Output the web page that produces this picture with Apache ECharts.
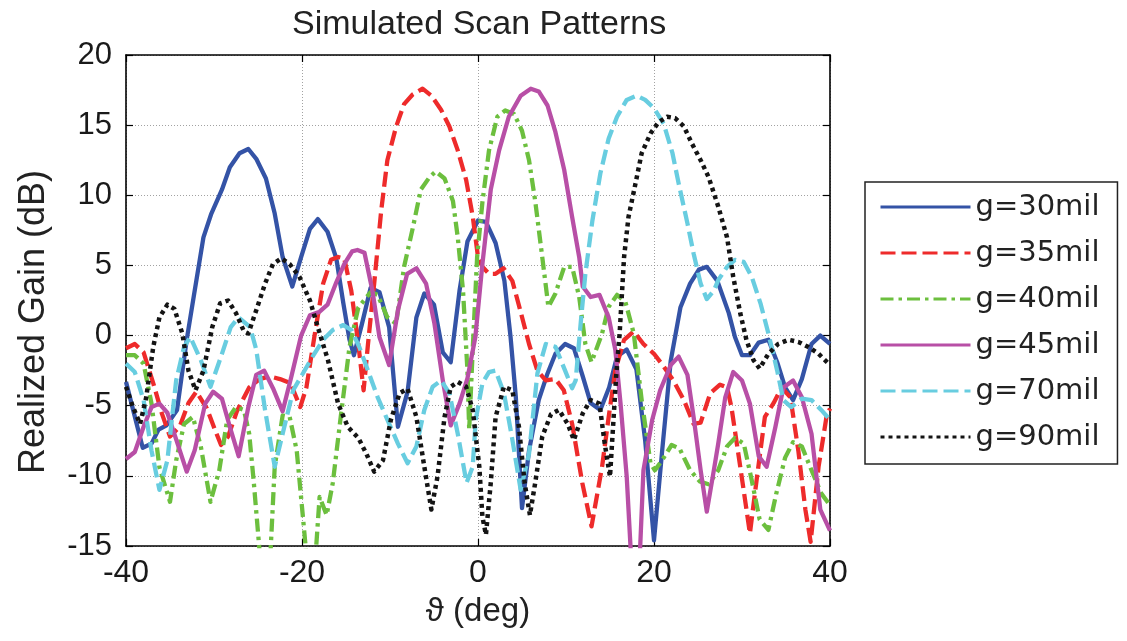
<!DOCTYPE html>
<html>
<head>
<meta charset="utf-8">
<title>Simulated Scan Patterns</title>
<script src="https://cdn.jsdelivr.net/npm/echarts@6/dist/echarts.min.js"></script>
<style>
  html, body { margin: 0; padding: 0; background: #fff; }
  #chart { width: 1127px; height: 641px; }
</style>
</head>
<body>
<div id="chart"></div>
<script>
// [scan angle (deg), realized gain (dB)], one list per gap size
const g30 = [[-40,-3.3],[-38.1,-8.0],[-37.1,-7.7],[-36.3,-6.7],[-35.4,-6.4],[-34.2,-5.3],[-33.1,-0.3],[-32.3,2.8],[-31.2,7.0],[-30.3,8.7],[-29.1,10.4],[-28.2,12.0],[-27.1,13.0],[-26.1,13.3],[-25.2,12.6],[-24.1,11.2],[-23.1,8.7],[-22.2,5.6],[-21.1,3.5],[-20.1,5.6],[-19.1,7.6],[-18.2,8.3],[-17.1,7.4],[-16.1,5.5],[-15.3,2.3],[-14.6,-0.3],[-14.1,-1.4],[-13.2,0.8],[-12.2,3.4],[-11.2,3.1],[-10.1,0.6],[-9.1,-6.5],[-8.0,-4.0],[-7.0,1.3],[-6.1,3.0],[-5.0,2.2],[-4.0,-1.2],[-3.1,-1.9],[-2.1,3.2],[-1.2,6.7],[0,8.2],[0.9,8.1],[2.0,6.6],[3.0,3.9],[3.7,-0.1],[4.3,-4.4],[5.0,-12.3],[5.8,-8.2],[6.9,-4.6],[7.9,-2.7],[8.8,-1.3],[9.9,-0.6],[10.9,-0.9],[11.9,-2.9],[12.8,-4.8],[13.9,-5.3],[14.9,-3.7],[15.8,-1.5],[16.9,-1.0],[18.0,-2.4],[19.0,-7.5],[20.0,-14.6],[20.9,-8.4],[21.9,-1.8],[23.0,2.0],[24.1,3.7],[25.1,4.7],[26.0,4.9],[27.2,3.9],[28.5,1.6],[29.2,-0.1],[30.0,-1.4],[30.9,-1.4],[31.9,-0.5],[33.0,-0.3],[34.0,-1.9],[34.9,-3.7],[35.8,-4.6],[36.8,-3.1],[37.9,-0.6],[38.9,0.0],[40,-0.6]];

const g35 = [[-40,-0.9],[-39,-0.6],[-38,-1.2],[-36.9,-3.4],[-35.9,-5.6],[-35,-7.2],[-33.9,-6.5],[-32.9,-4.8],[-32,-4.0],[-30.8,-5.2],[-29.9,-6.7],[-29.2,-7.8],[-28.4,-7.2],[-27.4,-5.4],[-26,-3.7],[-24.8,-3.1],[-23.7,-2.9],[-22.5,-3.1],[-21.3,-3.4],[-20.2,-5.1],[-19.5,-3.7],[-18.6,-0.1],[-17.6,3.7],[-16.7,5.4],[-15.9,5.6],[-15.2,5.5],[-14.4,3.2],[-13.6,-0.6],[-13.0,-3.9],[-12.5,-0.6],[-11.8,3.7],[-11.0,8.9],[-10.3,12.5],[-9.3,14.9],[-8.4,16.5],[-7.4,17.2],[-6.3,17.6],[-5.3,17.1],[-4.2,16.1],[-3.25,14.9],[-2.3,13.2],[-1.35,11.1],[-0.6,8.5],[0,5.6],[0.5,4.9],[1.25,4.4],[2.0,4.4],[2.9,4.8],[3.9,3.9],[4.8,1.8],[5.8,-0.6],[6.75,-2.5],[7.7,-3.2],[8.8,-3.1],[9.75,-3.9],[10.7,-6.3],[11.85,-10.5],[12.9,-13.6],[14.1,-9.35],[14.85,-5.8],[15.6,-2.5],[16.6,-0.3],[17.7,0.3],[18.8,-0.6],[20,-1.3],[21.1,-2.2],[22.2,-3.2],[23.4,-4.6],[24.5,-6.3],[25.3,-6.2],[26.4,-4.1],[27.5,-3.5],[28.3,-3.7],[28.8,-5.1],[29.8,-9.35],[30.9,-14.1],[31.7,-10.1],[32.6,-5.8],[33.6,-4.8],[34.5,-3.7],[35.5,-4.4],[36.4,-8.2],[37.2,-12.4],[37.8,-14.7],[38.7,-9.35],[39.6,-5.8],[40,-5.2]];

const g40 = [[-40,-1.4],[-39,-1.4],[-38,-2.0],[-37.1,-4.85],[-36.2,-9.4],[-35.0,-11.85],[-34.3,-8.9],[-33.4,-6.3],[-32.4,-5.8],[-31.5,-7.9],[-30.4,-11.85],[-29.4,-9.6],[-28.5,-6.0],[-27.5,-5.1],[-26.6,-5.3],[-26.0,-7.0],[-25.5,-10.3],[-24.6,-17],[-23.7,-17],[-23.1,-9.35],[-22.2,-5.7],[-21.4,-5.8],[-20.6,-8.2],[-19.9,-12.9],[-19.3,-17],[-18.6,-17],[-18.0,-11.5],[-17.2,-12.8],[-16.5,-10.5],[-15.6,-5.8],[-14.6,-0.8],[-13.6,2.0],[-12.2,3.1],[-11.4,2.9],[-10.3,1.3],[-9.3,0.85],[-8.4,4.9],[-7.4,7.7],[-6.5,10.4],[-5.5,11.3],[-4.8,11.7],[-3.8,11.2],[-2.85,9.6],[-2.3,7.0],[-1.7,3.2],[-1.2,-2.5],[-1.0,-6.7],[-0.6,-1.0],[-0.1,5.6],[0.5,9.5],[1.25,13.2],[2.2,15.6],[3.1,16.05],[4.1,15.8],[5.0,14.6],[5.8,12.5],[6.5,9.6],[7.3,5.6],[8.0,2.05],[8.8,3.0],[9.8,4.9],[10.7,4.9],[11.5,2.75],[12.2,-0.6],[12.9,-1.9],[14.1,0.15],[14.85,2.05],[15.8,2.9],[16.75,2.4],[17.7,0.15],[18.6,-4.6],[19.6,-9.1],[20.1,-9.6],[20.9,-8.9],[22.0,-7.8],[22.9,-8.05],[24.1,-9.6],[25.2,-10.4],[26.2,-10.6],[27.3,-9.6],[28.3,-7.9],[29.2,-7.3],[30.2,-7.7],[31.1,-10.3],[32.0,-13.1],[33.0,-13.85],[33.9,-11.25],[34.9,-8.7],[35.8,-7.6],[36.8,-7.9],[37.9,-9.6],[39.0,-11.25],[40,-12.1]];

const g45 = [[-40,-8.8],[-39,-8.3],[-38,-6.5],[-37.1,-5.1],[-36.2,-4.85],[-35.3,-5.5],[-34.3,-7.4],[-33.1,-9.7],[-32.2,-8.2],[-31.0,-4.85],[-30.1,-4.0],[-29.1,-4.5],[-28.2,-6.5],[-27.2,-8.6],[-26.1,-5.1],[-25.2,-2.8],[-24.3,-2.5],[-23.3,-3.75],[-22.2,-5.4],[-21.2,-2.9],[-20.1,0.0],[-19.1,1.45],[-18.0,1.7],[-17.1,2.2],[-16.1,3.8],[-15.2,5.1],[-14.3,6.0],[-13.7,6.1],[-12.9,5.9],[-12.0,3.2],[-11.2,-0.1],[-10.1,-2.1],[-9.1,1.8],[-8.05,4.4],[-7.0,4.8],[-5.9,3.7],[-4.95,0.85],[-4.0,-3.2],[-3.1,-6.4],[-2.1,-4.85],[-1.2,-3.05],[-0.3,-0.1],[0.5,5.1],[1.45,10.4],[2.4,13.2],[3.5,15.6],[4.85,17.1],[6.0,17.6],[6.9,17.4],[7.9,16.4],[8.8,14.5],[9.8,11.8],[10.7,8.45],[11.5,5.6],[11.9,3.5],[12.8,2.75],[13.8,2.9],[14.85,1.3],[15.6,-1.0],[16.2,-4.85],[16.9,-10.05],[17.5,-17],[18.3,-17],[18.8,-9.6],[19.8,-6.0],[20.7,-3.9],[21.9,-2.1],[22.8,-1.5],[23.8,-2.8],[24.5,-5.8],[25.3,-9.6],[26.0,-12.55],[26.8,-9.6],[27.3,-7.7],[28.1,-4.4],[29.0,-2.6],[30.0,-3.2],[30.9,-4.85],[31.9,-8.6],[32.8,-9.35],[33.8,-6.5],[34.7,-3.7],[35.8,-3.2],[36.8,-4.4],[37.9,-7.0],[38.9,-12.4],[40,-13.9]];

const g70 = [[-40,-2.0],[-39,-2.6],[-38,-4.6],[-37.1,-8.2],[-36.2,-11.0],[-35.3,-8.9],[-34.3,-3.2],[-33.4,-0.8],[-32.7,-0.1],[-31.5,-1.75],[-30.4,-3.65],[-29.2,-1.5],[-28.1,0.6],[-27.2,1.3],[-25.9,0.6],[-25.2,-1.0],[-24.2,-5.3],[-23.1,-9.35],[-22.2,-7.0],[-21.0,-3.9],[-19.9,-2.7],[-18.8,-1.5],[-17.6,-0.3],[-16.5,0.4],[-15.3,0.75],[-14.4,0.4],[-13.5,-0.8],[-12.5,-2.5],[-11.4,-4.4],[-10.3,-6.0],[-9.1,-7.7],[-8.0,-9.1],[-7.0,-7.9],[-6.1,-5.3],[-5.15,-3.65],[-4.2,-3.2],[-3.25,-4.1],[-2.3,-7.0],[-1.3,-10.5],[-0.6,-9.35],[-0.26,-6.0],[0.5,-3.4],[1.25,-2.6],[2.0,-2.5],[2.95,-4.1],[3.9,-7.4],[4.85,-11.0],[5.8,-8.4],[6.75,-2.7],[7.7,-0.6],[8.8,-0.8],[9.9,-2.5],[10.7,-3.75],[11.1,-3.2],[11.7,1.1],[12.2,4.4],[13.0,8.2],[13.9,11.55],[14.85,14.05],[15.8,15.6],[16.9,16.8],[18.05,17.1],[19.0,16.8],[20.0,16.2],[21.1,15.1],[22.1,13.0],[22.8,10.85],[23.8,8.0],[24.5,5.85],[25.3,3.7],[26.0,2.6],[26.8,3.2],[27.3,3.95],[28.3,4.9],[29.2,5.4],[30.2,5.25],[31.1,4.2],[32.1,2.3],[33.0,0.15],[34.0,-2.5],[34.7,-4.6],[35.6,-5.1],[36.8,-4.5],[37.9,-4.6],[39.0,-5.3],[40,-6.0]];

const g90 = [[-40,-3.65],[-39.2,-5.1],[-38.4,-6.3],[-37.7,-4.4],[-36.9,-0.8],[-36.2,1.3],[-35.3,2.2],[-34.5,1.9],[-33.6,0.15],[-32.9,-2.5],[-32.1,-3.9],[-31.2,-2.5],[-30.2,0.6],[-29.3,2.3],[-28.4,2.5],[-27.5,1.6],[-26.6,0.3],[-26.1,0.15],[-25.2,1.8],[-24.2,3.7],[-23.3,5.1],[-22.35,5.5],[-21.4,5.1],[-20.3,4.2],[-19.1,2.5],[-18.2,0.6],[-17.05,-1.75],[-15.9,-4.85],[-14.8,-6.5],[-13.6,-7.3],[-12.7,-8.4],[-11.8,-9.7],[-10.8,-8.9],[-9.9,-6.0],[-8.9,-4.1],[-8.0,-3.8],[-7.0,-5.8],[-6.1,-9.35],[-5.3,-12.4],[-4.6,-10.05],[-3.8,-5.8],[-3.1,-3.65],[-2.3,-3.3],[-1.35,-3.65],[-0.6,-5.3],[0.15,-9.35],[0.5,-12.9],[0.9,-14.2],[1.45,-10.5],[2.0,-5.8],[2.95,-3.65],[3.9,-3.9],[4.65,-6.5],[5.3,-10.5],[5.9,-12.8],[6.5,-10.5],[7.3,-7.2],[8.3,-5.6],[9.2,-5.3],[10.2,-6.3],[10.9,-7.45],[11.9,-5.55],[12.8,-4.6],[13.8,-4.85],[14.4,-7.7],[15.0,-10.05],[15.7,-2.9],[16.1,0.2],[16.6,5.6],[17.1,8.45],[17.9,10.85],[18.6,13.0],[19.6,14.4],[20.5,15.2],[21.5,15.6],[22.4,15.5],[23.4,14.9],[24.3,13.7],[25.3,12.5],[26.2,11.3],[27.3,9.2],[28.3,7.0],[29.0,4.2],[29.8,1.6],[30.5,-0.3],[31.3,-1.75],[32.0,-2.35],[33.0,-1.3],[34.1,-0.6],[35.3,-0.3],[36.4,-0.45],[37.5,-0.8],[38.7,-1.3],[40,-2.1]];

const seriesNames = ['g=30mil', 'g=35mil', 'g=40mil', 'g=45mil', 'g=70mil', 'g=90mil'];
const seriesData = [g30, g35, g40, g45, g70, g90];
const seriesColors = ['#3453a6', '#ee2b2b', '#6cbf3e', '#b84fa6', '#68cde0', '#141414'];
// solid, dashed, dash-dot, solid, dashed, dotted
const seriesDash = ['solid', [15, 6], [13, 5, 3.5, 5], 'solid', [15, 6], [4, 4]];

const fontMain = '"Liberation Sans", Arial, Helvetica, sans-serif';

const chart = echarts.init(document.getElementById('chart'));

const tick = { inside: true, length: 7, lineStyle: { color: '#000', width: 1.2 } };
const axisLine = { onZero: false, lineStyle: { color: '#000', width: 1.6 } };
const grid = { show: true, lineStyle: { color: '#8a8a8a', width: 0.8, type: [1, 2] } };

const option = {
  animation: false,
  backgroundColor: '#fff',
  title: {
    text: 'Simulated Scan Patterns',
    left: 287,
    top: 3,
    textStyle: { fontFamily: fontMain, fontSize: 34, fontWeight: 'normal', color: '#222' }
  },
  legend: {
    orient: 'vertical',
    left: 865,
    top: 182,
    padding: [10, 18, 12, 14],
    itemWidth: 90,
    itemHeight: 14,
    itemGap: 16,
    backgroundColor: '#fff',
    borderColor: '#222',
    borderWidth: 1.5,
    itemStyle: { opacity: 0, color: 'rgba(0,0,0,0)', borderColor: 'rgba(0,0,0,0)', borderWidth: 0 },
    lineStyle: { width: 3 },
    textStyle: { fontFamily: '"DejaVu Sans", sans-serif', fontSize: 29, lineHeight: 30, color: '#222' },
    data: seriesNames
  },
  graphic: [{
    type: 'text',
    x: 34,
    y: 322,
    rotation: Math.PI / 2,
    style: {
      text: 'Realized Gain (dB)',
      font: '36px "Liberation Sans", Arial, sans-serif',
      fill: '#222',
      align: 'center',
      verticalAlign: 'middle'
    }
  }],
  grid: { left: 126, top: 55, width: 704, height: 491, containLabel: false },
  xAxis: [
    {
      type: 'value', min: -40, max: 40, interval: 20,
      name: 'ϑ (deg)', nameLocation: 'middle', nameGap: 49,
      nameTextStyle: { fontFamily: fontMain, fontSize: 33, color: '#222' },
      axisLine: axisLine, axisTick: tick, splitLine: grid,
      axisLabel: { fontFamily: fontMain, fontSize: 32, color: '#1a1a1a', margin: 11 }
    },
    {
      type: 'value', position: 'top', min: -40, max: 40, interval: 20,
      axisLine: axisLine, axisTick: tick, splitLine: { show: false }, axisLabel: { show: false }
    }
  ],
  yAxis: [
    {
      type: 'value', min: -15, max: 20, interval: 5,
      axisLine: axisLine, axisTick: tick, splitLine: grid,
      axisLabel: { fontFamily: fontMain, fontSize: 31, color: '#1a1a1a', margin: 14 }
    },
    {
      type: 'value', position: 'right', min: -15, max: 20, interval: 5,
      axisLine: axisLine, axisTick: tick, splitLine: { show: false }, axisLabel: { show: false }
    }
  ],
  series: seriesNames.map((name, i) => ({
    name: name,
    type: 'line',
    data: seriesData[i],
    symbol: 'none',
    clip: true,
    itemStyle: { color: seriesColors[i] },
    lineStyle: { color: seriesColors[i], width: i === 5 ? 4.5 : 4.3, type: seriesDash[i], cap: 'butt', join: 'round' },
    z: 2 + i
  }))
};

chart.setOption(option);
</script>
</body>
</html>
